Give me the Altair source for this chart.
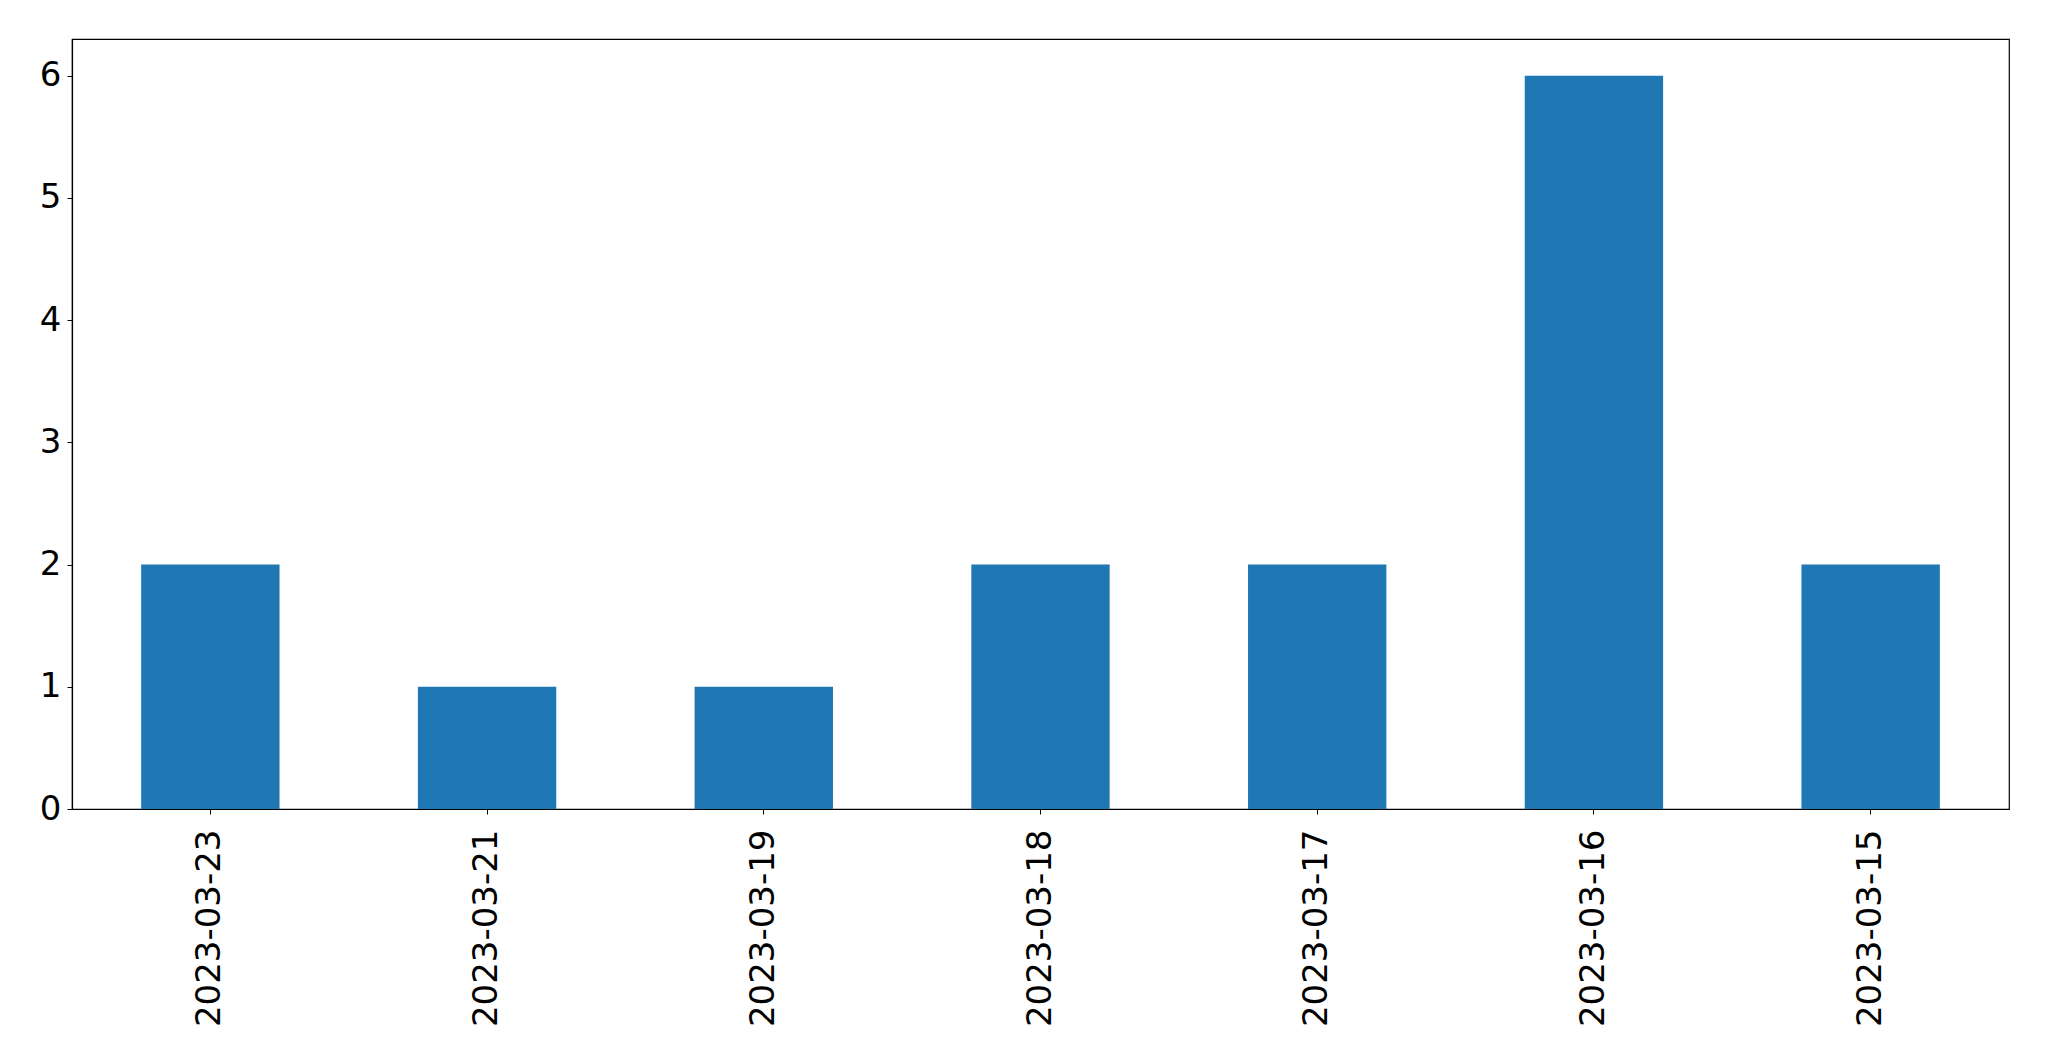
import altair as alt
import pandas as pd

dates = ["2023-03-23", "2023-03-21", "2023-03-19", "2023-03-18", "2023-03-17", "2023-03-16", "2023-03-15"]
counts = [2, 1, 1, 2, 2, 6, 2]

df = pd.DataFrame({"date": dates, "count": counts})

chart = alt.Chart(df).mark_bar(color="#1f77b4").encode(
    x=alt.X("date:N", sort=None, title=None,
            scale=alt.Scale(paddingInner=0.5, paddingOuter=0.25),
            axis=alt.Axis(labelAngle=-90, labelAlign="right", labelBaseline="middle",
                          labelFontSize=34, labelFont="DejaVu Sans", labelColor="black",
                          tickColor="black", tickSize=5, labelPadding=15,
                          domainColor="black", domainWidth=1.2, labelLimit=400)),
    y=alt.Y("count:Q", title=None,
            scale=alt.Scale(domain=[0, 6.3], nice=False, zero=True),
            axis=alt.Axis(values=[0, 1, 2, 3, 4, 5, 6], format="d", grid=False,
                          labelFontSize=34, labelFont="DejaVu Sans", labelColor="black",
                          tickColor="black", tickSize=5, labelPadding=6,
                          domainColor="black", domainWidth=1.2)),
).properties(
    width=1937, height=770,
    padding={"left": 64, "top": 31, "right": 30, "bottom": 235},
    autosize=alt.AutoSizeParams(type="none"),
).configure_view(
    stroke="black", strokeWidth=1.2
)

chart.save("out.html", embed_options={"renderer": "svg", "actions": False})
